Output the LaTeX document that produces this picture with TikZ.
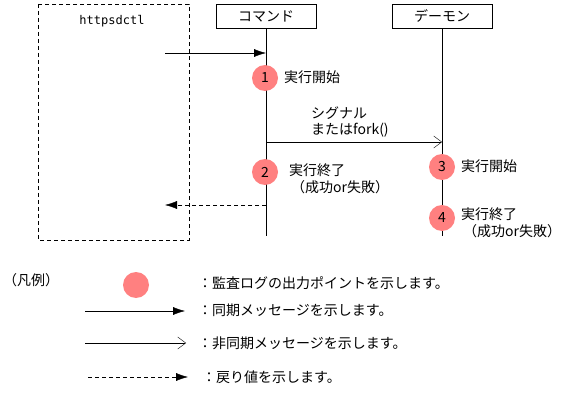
\documentclass[tikz,border=0pt]{standalone}
\usepackage{fontspec}
\setmainfont{Noto Sans CJK JP}
\newfontfamily\monofnt{DejaVu Sans Mono}
\usetikzlibrary{arrows.meta,positioning}
\definecolor{logpink}{RGB}{255,128,128}

\begin{document}
\begin{tikzpicture}[x=1pt,y=-1pt,
	font=\fontsize{14}{16}\selectfont,
	lifebox/.style={draw,minimum width=100pt,minimum height=24pt,inner sep=0pt},
	logpt/.style={circle,fill=logpink,minimum size=26pt,inner sep=0pt},
	syncmsg/.style={-{Latex[length=12pt,width=8pt]}},
	asyncmsg/.style={-{Straight Barb[length=8pt,width=12pt]}},
	retmsg/.style={dash pattern=on 4pt off 3pt,-{Latex[length=12pt,width=8pt]}},
	txt/.style={inner sep=0pt,anchor=west,align=left}
]
	\useasboundingbox (0,0) rectangle (584,401);

	% Participants
	\draw[dash pattern=on 4pt off 3pt] (38,4) rectangle (189,240);
	\node (client) at (112,21) {\monofnt\fontsize{12}{14}\selectfont httpsdctl};
	\node[lifebox] (cmd) at (266,16) {コマンド};
	\node[lifebox] (dmn) at (442,16) {デーモン};

	% Lifelines
	\coordinate (cmdend) at (cmd.south |- 0,236);
	\coordinate (dmnend) at (dmn.south |- 0,236);
	\draw (cmd.south) -- (cmdend);
	\draw (dmn.south) -- (dmnend);

	% Messages
	\coordinate (callsrc) at (165,53);
	\coordinate (callend) at (callsrc -| cmd.south);
	\draw[syncmsg] (callsrc) -- (callend);
	\coordinate (sigsrc) at (cmd.south |- 0,142);
	\coordinate (sigend) at (dmn.south |- 0,142);
	\draw[asyncmsg] (sigsrc) -- (sigend);
	\node[txt] (siglbl) at (311,122) {シグナル\\またはfork()};
	\coordinate (retsrc) at (cmd.south |- 0,205);
	\coordinate (retend) at (165,205);
	\draw[retmsg] (retsrc) -- (retend);

	% Audit log points
	\node[logpt] (p1) at (265,78) {1};
	\node[txt] (p1lbl) at (284,77) {実行開始};
	\node[logpt] (p2) at (265,172) {2};
	\node[txt] (p2lbl) at (289,170) {実行終了};
	\node[txt] (p2res) at (291,187) {（成功or失敗）};
	\node[logpt] (p3) at (442,167) {3};
	\node[txt] (p3lbl) at (461,166) {実行開始};
	\node[logpt] (p4) at (442,218) {4};
	\node[txt] (p4lbl) at (461,214) {実行終了};
	\node[txt] (p4res) at (463,231) {（成功or失敗）};

	% Legend
	\node[txt] (legend) at (3,280) {（凡例）};
	\node[logpt] (keypt) at (136,285) {};
	\node[txt] (keyptlbl) at (198,283) {：監査ログの出力ポイントを示します。};
	\coordinate (keysync) at (85,311);
	\coordinate (keysyncend) at (185,311);
	\draw[syncmsg] (keysync) -- (keysyncend);
	\node[txt] (keysynclbl) at (198,310) {：同期メッセージを示します。};
	\coordinate (keyasync) at (85,343);
	\coordinate (keyasyncend) at (186,343);
	\draw[asyncmsg] (keyasync) -- (keyasyncend);
	\node[txt] (keyasynclbl) at (198,343) {：非同期メッセージを示します。};
	\coordinate (keyret) at (88,377);
	\coordinate (keyretend) at (188,377);
	\draw[retmsg] (keyret) -- (keyretend);
	\node[txt] (keyretlbl) at (202,377) {：戻り値を示します。};
\end{tikzpicture}
\end{document}
